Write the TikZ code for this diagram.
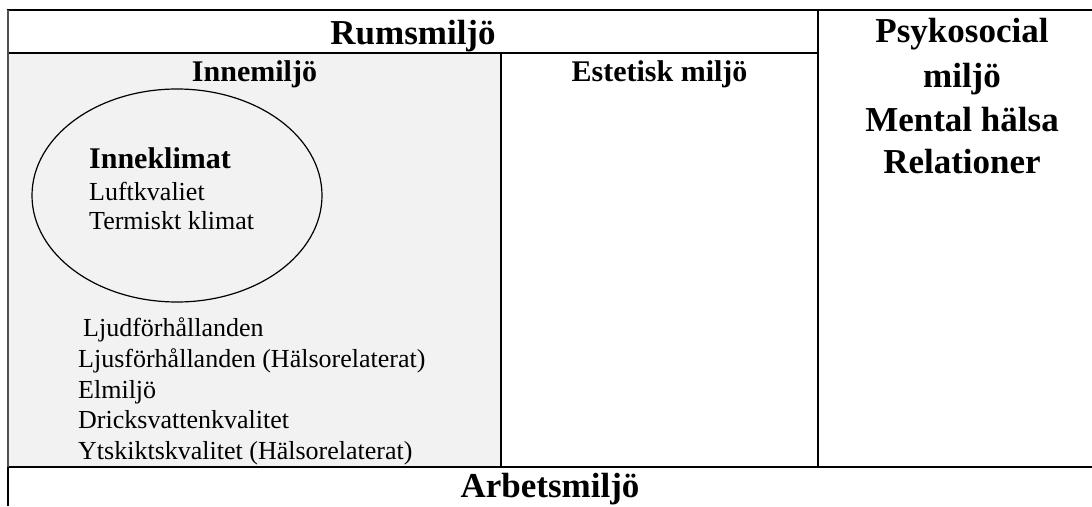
\documentclass[tikz,border=0pt]{standalone}
\usepackage{fontspec}
\setmainfont{Liberation Serif}
\definecolor{cellgray}{HTML}{F2F2F2}
\definecolor{edgegray}{HTML}{505050}
\begin{document}
\begin{tikzpicture}[x=1pt,y=-1pt,
  title/.style={font=\bfseries\fontsize{35}{42}\selectfont, inner sep=0pt, anchor=base},
  subtitle/.style={font=\bfseries\fontsize{30}{36}\selectfont, inner sep=0pt, anchor=base},
  itemtext/.style={font=\fontsize{26}{30}\selectfont, inner sep=0pt, anchor=base west},
  heavy/.style={line width=2.6pt},
  medium/.style={line width=2pt},
  thin/.style={line width=1.2pt}]
\useasboundingbox (0,0) rectangle (1092,506);

% grey background of the indoor-environment cell
\fill[cellgray] (8,53) rectangle (501,467);

% table rules
\draw[heavy] (6.7,10) -- (1092,10);
\draw[medium] (8,53) -- (818,53);
\draw[heavy] (6.7,467) -- (1092,467);
\draw[thin] (501,53) -- (501,467);
\draw[thin] (818,10) -- (818,467);
\draw[line width=2.2pt, edgegray] (8,10) -- (8,467);
\draw[line width=2.2pt] (8,467) -- (8,506);

% headings
\node[title] (rum) at (413,44) {Rumsmiljö};
\node[subtitle] (inne) at (254.5,81) {Innemiljö};
\node[subtitle] (este) at (659.5,81) {Estetisk miljö};
\node[title] (psy1) at (962,42) {Psykosocial};
\node[title] (psy2) at (962,87) {miljö};
\node[title] (psy3) at (962,131) {Mental hälsa};
\node[title] (psy4) at (962,173) {Relationer};
\node[title] (arb) at (550,497) {Arbetsmiljö};

% indoor climate ellipse
\draw[line width=1.2pt] (177,195.5) ellipse [x radius=145pt, y radius=106.5pt];
\node[subtitle, anchor=base west] (klimat) at (89,168) {Inneklimat};
\node[itemtext] (luft) at (89,200) {Luftkvaliet};
\node[itemtext] (term) at (89,229) {Termiskt klimat};

% other indoor factors
\node[itemtext] (ljud) at (83,336) {Ljudförhållanden};
\node[itemtext] (ljus) at (78,367) {Ljusförhållanden (Hälsorelaterat)};
\node[itemtext] (el) at (78,398) {Elmiljö};
\node[itemtext] (vatten) at (78,428) {Dricksvattenkvalitet};
\node[itemtext] (yta) at (78,459) {Ytskiktskvalitet (Hälsorelaterat)};
\end{tikzpicture}
\end{document}
